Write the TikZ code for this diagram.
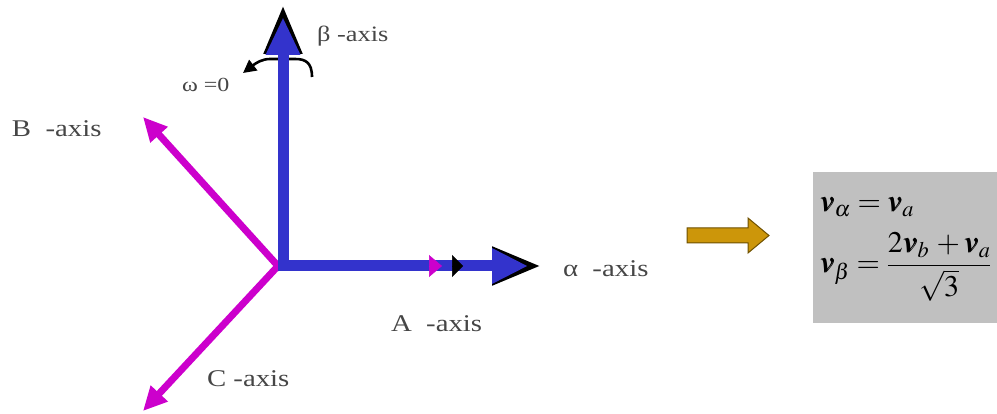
\documentclass[tikz,border=0pt]{standalone}
\usepackage{mathptmx}
\usepackage{bm}
\usepackage{graphicx}
\usepackage[no-math]{fontspec}
\setmainfont{Liberation Serif}
\usetikzlibrary{arrows.meta}
\definecolor{axblue}{RGB}{51,51,204}
\definecolor{axmag}{RGB}{204,0,204}
\definecolor{goldfill}{RGB}{204,150,10}
\definecolor{golddark}{RGB}{110,80,0}
\definecolor{boxgrey}{RGB}{192,192,192}
\definecolor{labgrey}{RGB}{70,70,70}
\newcommand{\wlab}[1]{\scalebox{1.2}[1]{#1}}
\begin{document}
\begin{tikzpicture}[x=1pt,y=-1pt,
  lab/.style={anchor=base west, inner sep=0pt, outer sep=0pt, text=labgrey,
              font=\fontsize{24}{28}\selectfont},
  eqn/.style={anchor=base west, inner sep=0pt, outer sep=0pt, text=black,
              font=\fontsize{30}{36}\selectfont},
  blueax/.style={draw=axblue, line width=11pt},
  blackax/.style={draw=black, line width=11pt},
  magax/.style={draw=axmag, line width=7pt},
]
\useasboundingbox (0,0) rectangle (997,414);

% named points
\coordinate (O) at (278,266);
\coordinate (Ocv) at (283,271.5);
\coordinate (Och) at (277.5,266);
\coordinate (Btip) at (143,117);
\coordinate (Ctip) at (143,411);
\coordinate (Atip) at (442,266);
\coordinate (Abase) at (429,266);
\coordinate (Ktip) at (463,266);
\coordinate (Kbase) at (452,266);
\coordinate (alphaK) at (541,266);
\coordinate (alphaB) at (528,266);
\coordinate (betaK) at (283,5);
\coordinate (betaB) at (283,17);
\coordinate (wS) at (312,77);
\coordinate (wE) at (243,73);

% omega arc (behind beta axis)
\draw[black, line width=2.6pt, -{Triangle[length=13pt,width=13pt]}]
  (wS) .. controls (312,62) and (305,59) .. (295,59) -- (270,59)
       .. controls (262,59) and (256,63) .. (wE);

% magenta a-b-c axes
\draw[magax, -{Triangle[length=24pt,width=22pt]}] (O) -- (Btip);
\draw[magax, -{Triangle[length=24pt,width=22pt]}] (O) -- (Ctip);
\draw[magax] (O) -- (Abase);

% black axes behind the blue ones
\draw[blackax, -{Triangle[length=49pt,width=36pt]}] (Ocv) -- (betaK);
\draw[blackax, -{Triangle[length=49pt,width=36pt]}] (Och) -- (alphaK);

% blue alpha-beta axes
\draw[blueax, -{Triangle[length=38pt,width=32pt]}] (Ocv) -- (betaB);
\draw[blueax, -{Triangle[length=36pt,width=33pt]}] (Och) -- (alphaB);

% A-axis head and small black head on the alpha axis
\draw[axmag, line width=0.5pt, -{Triangle[length=13pt,width=22pt]}] (Abase) -- (Atip);
\draw[black, line width=0.5pt, -{Triangle[length=11pt,width=22pt]}] (Kbase) -- (Ktip);

% labels
\node[lab, font=\fontsize{22}{26}\selectfont] (betalab) at (317,42) {\wlab{β -axis}};
\node[lab, font=\fontsize{20}{24}\selectfont] (omegalab) at (182,92) {\wlab{ω =0}};
\node[lab] (Blab) at (12,137) {\wlab{B\ \ -axis}};
\node[lab] (alphalab) at (563,277) {\wlab{α\ \ -axis}};
\node[lab] (Alab) at (391,332) {\wlab{A\ \ -axis}};
\node[lab] (Clab) at (207,387) {\wlab{C\ -axis}};

% gold arrow
\draw[fill=goldfill, draw=golddark, line width=1pt, line join=miter]
  (687,228) -- (748,228) -- (748,218) -- (769,235.5) -- (748,253) -- (748,243) -- (687,243) -- cycle;

% grey equation box
\node[fill=boxgrey, draw=none, anchor=north west, inner sep=0pt,
      minimum width=184pt, minimum height=151pt] (box) at (813,172) {};
\node[eqn] (eqa) at (820,212) {$\bm{v}_{\alpha}=\bm{v}_{a}$};
\node[eqn] (eqb) at (820,273) {$\bm{v}_{\beta}=\displaystyle\frac{2\bm{v}_{b}\,+\bm{v}_{a}}{\sqrt{3}}$};
\end{tikzpicture}
\end{document}
